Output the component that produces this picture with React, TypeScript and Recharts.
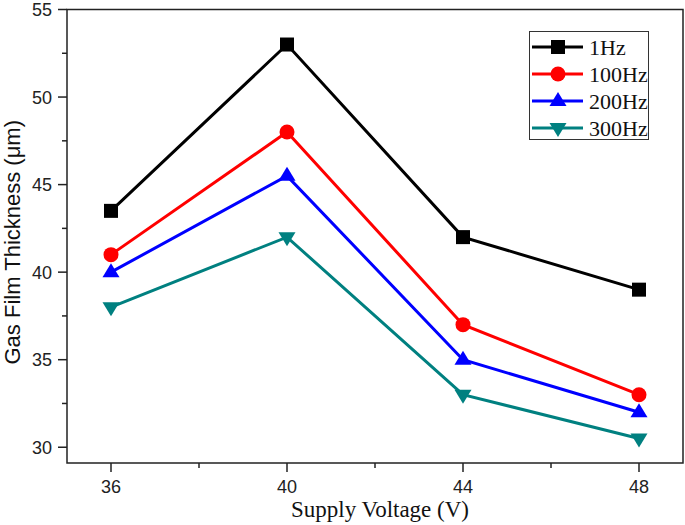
import { Label, Legend, Line, LineChart, ReferenceArea, XAxis, YAxis } from "recharts";

const voltages = [36, 40, 44, 48];
const hz1 = [43.5, 53, 42, 39];
const hz100 = [41, 48, 37, 33];
const hz200 = [40, 45.5, 35, 32];
const hz300 = [38, 42, 33, 30.5];

const xTicks = [36, 38, 40, 42, 44, 46, 48];
const xLabels = [36, 40, 44, 48];
const yTicks = [30, 32.5, 35, 37.5, 40, 42.5, 45, 47.5, 50, 52.5, 55];
const yLabels = [30, 35, 40, 45, 50, 55];

const series = [
  { key: "hz1", name: "1Hz", color: "#000000", marker: "square" },
  { key: "hz100", name: "100Hz", color: "#ff0000", marker: "circle" },
  { key: "hz200", name: "200Hz", color: "#0000ff", marker: "up" },
  { key: "hz300", name: "300Hz", color: "#008080", marker: "down" },
];

const data = voltages.map((v, i) => ({
  v,
  hz1: hz1[i],
  hz100: hz100[i],
  hz200: hz200[i],
  hz300: hz300[i],
}));

const SANS = "'Liberation Sans', Arial, sans-serif";
const SERIF = "'Liberation Serif', 'Times New Roman', serif";
const INK = "#222";

function Marker({ kind, cx, cy, color }: { kind: string; cx: number; cy: number; color: string }) {
  if (kind === "square") return <rect x={cx - 7} y={cy - 7} width={14} height={14} fill={color} />;
  if (kind === "circle") return <circle cx={cx} cy={cy} r={7.5} fill={color} />;
  if (kind === "up")
    return <polygon points={`${cx},${cy - 9} ${cx - 8.5},${cy + 5} ${cx + 8.5},${cy + 5}`} fill={color} />;
  return <polygon points={`${cx},${cy + 9} ${cx - 8.5},${cy - 5} ${cx + 8.5},${cy - 5}`} fill={color} />;
}

const XTick = (props: any) => {
  const { x, y, payload } = props;
  const major = xLabels.includes(payload.value);
  return (
    <g>
      <line x1={x} x2={x} y1={y} y2={y + (major ? 9 : 5)} stroke={INK} strokeWidth={1.5} />
      {major && (
        <text x={x} y={y + 30} textAnchor="middle" fontSize={18} fontFamily={SANS} fill={INK}>
          {payload.value}
        </text>
      )}
    </g>
  );
};

const YTick = (props: any) => {
  const { x, y, payload } = props;
  const major = yLabels.includes(payload.value);
  return (
    <g>
      <line x1={x - (major ? 9 : 5)} x2={x} y1={y} y2={y} stroke={INK} strokeWidth={1.5} />
      {major && (
        <text x={x - 15} y={y + 6.5} textAnchor="end" fontSize={18} fontFamily={SANS} fill={INK}>
          {payload.value}
        </text>
      )}
    </g>
  );
};

const renderLegend = () => (
  <svg width={120} height={110} style={{ display: "block" }}>
    <rect x={0.5} y={0.5} width={119} height={108} fill="#fff" stroke="#333" strokeWidth={1} />
    {series.map((s, i) => {
      const cy = 16 + i * 27;
      return (
        <g key={s.key}>
          <line x1={3} x2={54} y1={cy} y2={cy} stroke={s.color} strokeWidth={3} />
          <Marker kind={s.marker} cx={29} cy={cy} color={s.color} />
          <text x={60} y={cy + 7.5} fontSize={22} fontFamily={SERIF} fill="#111">
            {s.name}
          </text>
        </g>
      );
    })}
  </svg>
);

export default function App() {
  return (
    <div style={{ position: "absolute", left: 0, top: 0, background: "#fff" }}>
      <LineChart width={685} height={525} data={data} margin={{ top: 9.5, right: 2, bottom: 0, left: 0 }}>
        <ReferenceArea
          x1={35}
          x2={49}
          y1={29.1}
          y2={55}
          fill="none"
          stroke={INK}
          strokeWidth={1.5}
          ifOverflow="visible"
        />
        <XAxis
          dataKey="v"
          type="number"
          domain={[35, 49]}
          ticks={xTicks}
          interval={0}
          axisLine={false}
          tickLine={false}
          tickSize={0}
          tickMargin={0}
          tick={<XTick />}
          height={62}
        >
          <Label
            content={({ viewBox }: any) => (
              <text
                x={viewBox.x + viewBox.width / 2 + 5}
                y={517}
                textAnchor="middle"
                fontSize={23}
                fontFamily={SERIF}
                fill="#111"
              >
                Supply Voltage (V)
              </text>
            )}
          />
        </XAxis>
        <YAxis
          type="number"
          domain={[29.1, 55]}
          ticks={yTicks}
          interval={0}
          axisLine={false}
          tickLine={false}
          tickSize={0}
          tickMargin={0}
          tick={<YTick />}
          width={67}
        >
          <Label
            content={({ viewBox }: any) => {
              const cy = viewBox.y + viewBox.height / 2 + 6;
              return (
                <text
                  x={20}
                  y={cy}
                  transform={`rotate(-90, 20, ${cy})`}
                  textAnchor="middle"
                  fontSize={22}
                  fontFamily={SANS}
                  fill="#111"
                >
                  Gas Film Thickness (μm)
                </text>
              );
            }}
          />
        </YAxis>
        <Legend
          layout="vertical"
          align="center"
          verticalAlign="middle"
          content={renderLegend}
          wrapperStyle={{ left: 529, top: 31, width: 120, height: 110 }}
        />
        {series.map((s) => (
          <Line
            key={s.key}
            type="linear"
            dataKey={s.key}
            name={s.name}
            stroke={s.color}
            strokeWidth={3}
            isAnimationActive={false}
            activeDot={false}
            dot={(p: any) => <Marker key={`${s.key}-${p.index}`} kind={s.marker} cx={p.cx} cy={p.cy} color={s.color} />}
          />
        ))}
      </LineChart>
    </div>
  );
}
